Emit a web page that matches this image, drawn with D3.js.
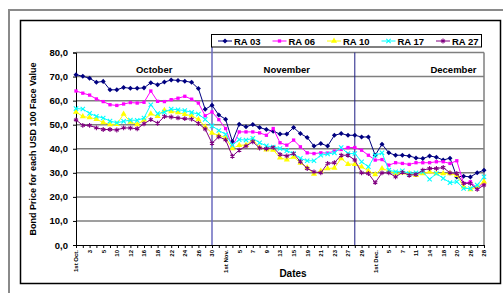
<!DOCTYPE html>
<html>
<head>
<meta charset="utf-8">
<script src="https://cdn.jsdelivr.net/npm/d3@7"></script>
<style>
  body { margin: 0; background: #fff; }
  svg { display: block; font-family: "Liberation Sans", Arial, sans-serif; }
</style>
</head>
<body>
<div id="chart"></div>
<script>
// trading dates, only every other one gets a label on the axis
var dates = ["1st Oct.","2","3","4","5","9","10","11","12","15","16","17","18","19","22","23","24","25","26","29","30",
  "31","1st Nov.","2","5","6","7","8","9","12","13","14","15","16","19","20","21","22","23","26","27","28","29","30",
  "1st Dec.","4","5","6","7","10","11","13","14","17","18","19","20","21","26","27","28"];

var ra03 = [70.8,70.1,69.3,67.6,68.0,64.5,64.5,65.5,65.1,65.1,65.3,67.4,66.6,67.7,68.6,68.4,68.1,67.6,65.0,56.4,58.1,
  54.0,52.3,43.0,50.2,49.1,50.1,48.8,48.0,47.3,46.1,46.1,48.8,46.3,44.7,41.1,42.2,41.1,45.6,46.3,45.6,45.6,44.9,44.9,
  37.3,41.9,38.3,37.3,37.3,37.0,36.2,35.9,37.0,36.5,35.3,36.1,28.3,28.6,28.3,30.0,31.1];
var ra06 = [64.0,63.1,62.3,60.7,59.6,58.3,58.0,58.6,59.2,59.0,59.3,64.0,59.7,59.6,60.4,61.0,61.8,60.6,59.0,53.7,55.3,
  52.1,48.4,40.8,47.0,47.0,47.0,46.6,45.6,48.4,42.5,41.5,43.6,40.8,38.3,38.0,38.3,38.2,39.0,39.7,40.5,40.5,39.4,37.3,
  35.3,35.5,33.2,34.2,33.9,33.5,34.2,34.2,34.2,34.6,34.6,33.9,35.0,25.6,26.3,23.5,25.9];
var ra10 = [55.3,53.4,53.0,52.3,50.9,50.1,50.2,54.4,51.1,50.1,51.9,54.5,53.5,56.0,55.5,55.1,54.3,53.7,52.2,49.1,46.5,
  45.6,44.6,40.1,41.5,41.5,43.8,40.5,39.6,39.5,36.3,35.4,36.6,34.1,32.2,29.5,30.8,31.8,32.0,36.0,33.6,33.6,32.5,30.8,
  29.3,31.8,30.8,29.7,30.0,29.7,29.0,29.7,30.4,29.7,29.7,29.7,29.0,24.2,23.1,24.2,26.3];
var ra17 = [56.7,56.5,54.7,53.5,52.8,51.5,50.8,51.4,51.9,51.8,52.8,58.3,54.6,55.2,56.5,56.2,55.9,55.1,54.4,52.2,49.5,
  47.6,46.0,41.5,43.8,43.6,44.3,42.5,41.2,40.7,40.1,39.2,38.0,36.0,35.0,35.0,37.3,37.8,38.3,40.5,38.0,38.0,34.6,32.5,
  37.3,38.3,31.1,30.4,30.8,29.7,30.0,30.4,27.3,29.7,27.7,25.9,26.3,23.5,23.5,24.9,28.3];
var ra27 = [52.0,49.7,49.7,48.7,48.0,48.0,47.8,48.7,48.6,48.3,50.4,52.1,50.6,53.4,53.2,52.8,52.5,52.3,50.5,48.2,42.3,
  45.0,43.7,36.9,39.4,41.1,42.9,40.3,40.0,40.5,37.6,37.0,38.0,34.6,31.8,30.4,30.0,33.9,34.2,37.3,37.3,35.3,30.0,29.7,
  25.9,30.0,30.0,28.3,30.2,29.0,29.3,31.1,31.8,31.8,32.2,30.0,29.7,25.6,25.6,23.1,24.9];

var seriesNames = ["RA 03","RA 06","RA 10","RA 17","RA 27"];
var seriesColors = ["#000080","#ff00ff","#ffff00","#00ffff","#800080"];
var yTicks = [0,10,20,30,40,50,60,70,80];
var months = ["October","November","December"];
var monthCenters = [11.5, 31, 55.5];   // category position of each month title
var monthBreaks = [20, 41];            // categories where the separator lines sit

var width = 503, height = 293;
var svg = d3.select("#chart").append("svg").attr("width", width).attr("height", height);

// frames
svg.append("path").attr("d", "M9,293V10H503").attr("fill", "none").attr("stroke", "#8a8a8a").attr("stroke-width", 2);
svg.append("rect").attr("x", 20.5).attr("y", 20.5).attr("width", 480).attr("height", 263)
  .attr("fill", "#fff").attr("stroke", "#000").attr("stroke-width", 1.5);

var x = d3.scalePoint().domain(d3.range(dates.length)).range([76, 484]);
var y = d3.scaleLinear().domain([0, 80]).range([245, 52.5]);

// gridlines
svg.append("g").selectAll("line").data(yTicks.slice(1)).join("line")
  .attr("x1", 76).attr("x2", 484)
  .attr("y1", d => y(d)).attr("y2", d => y(d))
  .attr("stroke", "#7f7f7f").attr("stroke-width", 1.5);
svg.append("line").attr("x1", 484).attr("x2", 484).attr("y1", y(80)).attr("y2", y(0))
  .attr("stroke", "#7f7f7f").attr("stroke-width", 1.5);

// month separators
svg.append("line").attr("x1", x(monthBreaks[0])).attr("x2", x(monthBreaks[0]))
  .attr("y1", 47).attr("y2", y(0)).attr("stroke", "#6a6abf").attr("stroke-width", 1.5);
svg.append("line").attr("x1", x(monthBreaks[1])).attr("x2", x(monthBreaks[1]))
  .attr("y1", y(80)).attr("y2", y(0)).attr("stroke", "#1c1c84").attr("stroke-width", 1);

svg.append("g").selectAll("text").data(months).join("text")
  .attr("x", (d, i) => x(0) + (x(1) - x(0)) * monthCenters[i])
  .attr("y", 73)
  .attr("text-anchor", "middle")
  .attr("font-size", 9.5).attr("font-weight", "bold")
  .text(d => d);

// axes
var yAxis = svg.append("g").attr("transform", "translate(76,0)")
  .call(d3.axisLeft(y).tickValues(yTicks).tickSize(3).tickPadding(5)
    .tickFormat(d => d.toFixed(1).replace(".", ",")));
yAxis.select(".domain").attr("stroke", "#000");
yAxis.selectAll("text").attr("font-size", 9.5).attr("font-weight", "bold").attr("fill", "#000")
  .attr("font-family", "Liberation Sans, Arial, sans-serif");

var xAxis = svg.append("g").attr("transform", "translate(0,245)")
  .call(d3.axisBottom(x).tickSize(3).tickSizeOuter(0)
    .tickFormat(i => i % 2 == 0 ? dates[i] : ""));
xAxis.select(".domain").attr("stroke", "#000").attr("stroke-width", 1.2);
xAxis.selectAll("text")
  .attr("transform", "rotate(-90)")
  .attr("text-anchor", "end")
  .attr("x", -5).attr("y", 0).attr("dy", "0.32em")
  .attr("font-size", 6).attr("font-weight", "bold").attr("fill", "#000")
  .attr("font-family", "Liberation Sans, Arial, sans-serif");

// axis titles
svg.append("text").attr("transform", "translate(36,149) rotate(-90)")
  .attr("text-anchor", "middle").attr("font-size", 9).attr("font-weight", "bold")
  .text("Bond Price for each USD 100 Face Value");
svg.append("text").attr("x", 293).attr("y", 277).attr("text-anchor", "middle")
  .attr("font-size", 10).attr("font-weight", "bold").text("Dates");

// series
var allSeries = [ra03, ra06, ra10, ra17, ra27];
var symbols = [d3.symbolDiamond2 || d3.symbolDiamond, d3.symbolSquare, d3.symbolTriangle, d3.symbolTimes, d3.symbolAsterisk];
var symSizes = [16, 11, 16, 14, 16];
var stroked = [false, false, false, true, true];

var line = d3.line().x((d, i) => x(i)).y(d => y(d));

function drawMarkers(g, vals, k, cx, cy) {
  var sym = d3.symbol().type(symbols[k]).size(symSizes[k]);
  g.selectAll("path.m").data(vals).join("path").attr("class", "m")
    .attr("transform", (d, i) => cx ? `translate(${cx},${cy})` : `translate(${x(i)},${y(d)})`)
    .attr("d", sym)
    .attr("fill", stroked[k] ? "none" : seriesColors[k])
    .attr("stroke", stroked[k] ? seriesColors[k] : "none")
    .attr("stroke-width", 1.1);
}

allSeries.forEach(function (vals, k) {
  var g = svg.append("g");
  g.append("path").datum(vals).attr("d", line)
    .attr("fill", "none").attr("stroke", seriesColors[k]).attr("stroke-width", 1);
  drawMarkers(g, vals, k);
});

// legend
var legend = svg.append("g");
legend.append("rect").attr("x", 211.5).attr("y", 34.5).attr("width", 270).attr("height", 12.5)
  .attr("fill", "#fff").attr("stroke", "#000").attr("stroke-width", 1);
seriesNames.forEach(function (name, k) {
  var lx = 218 + k * 54.5;
  var item = legend.append("g");
  item.append("line").attr("x1", lx).attr("x2", lx + 14).attr("y1", 41).attr("y2", 41)
    .attr("stroke", seriesColors[k]).attr("stroke-width", 1);
  drawMarkers(item, [0], k, lx + 7, 41);
  item.append("text").attr("x", lx + 16).attr("y", 44.5)
    .attr("font-size", 9.5).attr("font-weight", "bold").text(name);
});
</script>
</body>
</html>
